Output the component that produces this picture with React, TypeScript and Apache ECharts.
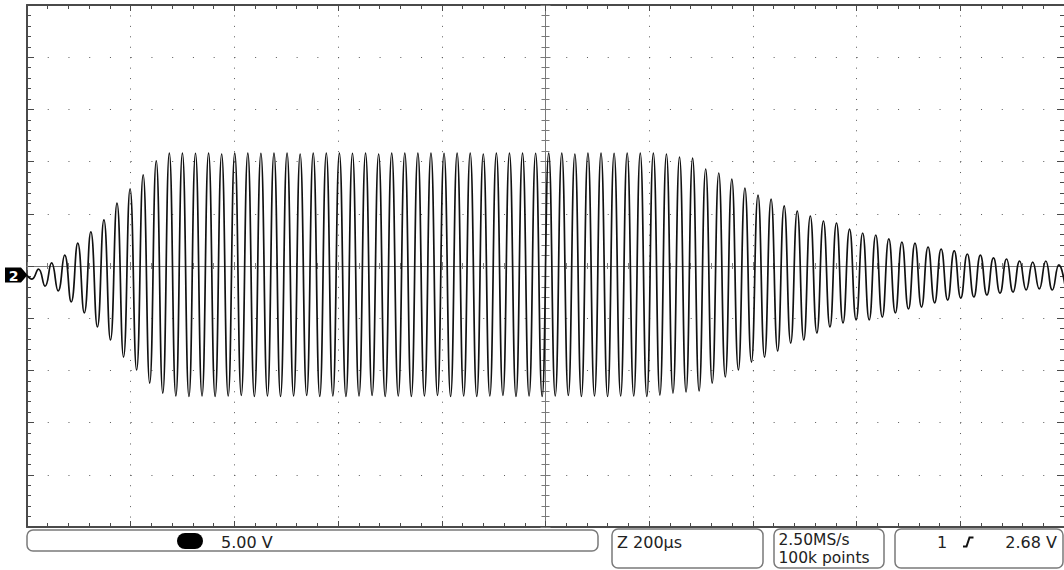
import React, { useEffect, useRef } from "react";
import * as echarts from "echarts";

// Time axis: µs relative to trigger (200 µs/div), Voltage axis: V (5 V/div)
const X_MIN = -1000;
const X_MAX = 1000;
const X_DIV = 200;
const Y_MIN = -25;
const Y_MAX = 25;
const Y_DIV = 5;

// Waveform: first positive peak time and cycle period (µs)
const START_TIME_US = -1000;
const START_VALUE_V = -0.9;
const FIRST_PEAK_US = -977.8;
const PERIOD_US = 25.23;

// Positive peak of each cycle (V)
const peakValues = [
  -0.29, 0.29, 1.05, 2.2, 3.26, 4.41, 6.03, 7.38, 8.72, 10.06,
  10.82, 10.82, 10.8, 10.82, 10.73, 10.82, 10.82, 10.8, 10.82, 10.82,
  10.73, 10.82, 10.82, 10.82, 10.8, 10.82, 10.73, 10.82, 10.82, 10.82,
  10.82, 10.8, 10.82, 10.82, 10.73, 10.82, 10.82, 10.82, 10.8, 10.82,
  10.82, 10.73, 10.82, 10.82, 10.8, 10.82, 10.82,
  10.82, 10.73, 10.44, 10.34,
  9.29, 8.91, 8.33, 7.47, 6.8, 6.42, 5.75, 5.27, 4.79, 4.31,
  4.12, 3.54, 3.16, 2.97, 2.59, 2.3, 2.2, 1.82, 1.63, 1.44,
  1.15, 1.05, 0.77, 0.67, 0.48, 0.38, 0.48, 0.1,
];

// Negative trough before the first peak, then the trough after each peak (V)
const troughValues = [
  -1.25, -1.92, -2.39, -3.45, -4.5, -5.84, -7.09, -8.72, -9.96, -11.21, -12.17,
  -12.45, -12.5, -12.45, -12.5, -12.45, -12.4, -12.5, -12.45, -12.5, -12.45,
  -12.4, -12.5, -12.45, -12.5, -12.45, -12.4, -12.5, -12.45, -12.5, -12.45,
  -12.4, -12.5, -12.45, -12.5, -12.45, -12.4, -12.5, -12.45, -12.5, -12.45,
  -12.4, -12.5, -12.45, -12.5, -12.45, -12.45,
  -12.5, -12.36, -12.17, -12.07, -11.97,
  -11.21, -10.63, -9.96, -9.2, -8.72, -8.14, -7.38, -7.09, -6.42, -5.84,
  -5.46, -5.17, -5.17, -4.89, -4.5, -4.12, -3.93, -3.54, -3.26, -3.07,
  -2.97, -2.78, -2.59, -2.49, -2.3, -2.2, -2.3, -2.11,
];

const statusTexts = {
  vdiv: "5.00 V",
  horiz: "Z 200µs",
  rate: "2.50MS/s",
  points: "100k points",
  trigCh: "1",
  trigLevel: "2.68 V",
  channel: "2",
};

const FONT = "DejaVu Sans";

function buildWave(): number[][] {
  const data: number[][] = [[START_TIME_US, START_VALUE_V]];
  data.push([FIRST_PEAK_US - PERIOD_US / 2, troughValues[0]]);
  for (let k = 0; k < peakValues.length; k++) {
    const t = FIRST_PEAK_US + k * PERIOD_US;
    data.push([t, peakValues[k]]);
    if (k + 1 < troughValues.length) {
      data.push([t + PERIOD_US / 2, troughValues[k + 1]]);
    }
  }
  return data;
}

const BORDER = "#4a4a4a";
const CENTER = "#7a7a7a";
const DOT = "#5a5a5a";

function xAxisBase(extra: any) {
  return {
    type: "value",
    min: X_MIN,
    max: X_MAX,
    interval: X_DIV,
    axisLabel: { show: false },
    splitLine: { show: false },
    ...extra,
  };
}
function yAxisBase(extra: any) {
  return {
    type: "value",
    min: Y_MIN,
    max: Y_MAX,
    interval: Y_DIV,
    axisLabel: { show: false },
    splitLine: { show: false },
    ...extra,
  };
}

export default function App() {
  const ref = useRef<HTMLDivElement>(null);

  useEffect(() => {
    if (!ref.current) return;
    const chart = echarts.init(ref.current, null, { renderer: "svg" });
    const boxStyle = { fill: "#fff", stroke: "#7a7a7a", lineWidth: 1.5 };
    const textStyle = (text: string, x: number, y: number, align = "left", size = 16) => ({
      type: "text",
      x,
      y,
      z: 10,
      style: {
        text,
        fill: "#222",
        font: `${size}px "${FONT}"`,
        textAlign: align,
        verticalAlign: "middle",
      },
    });

    chart.setOption({
      animation: false,
      backgroundColor: "#ffffff",
      grid: { left: 27, top: 5, width: 1037, height: 522, containLabel: false },
      xAxis: [
        xAxisBase({
          position: "bottom",
          axisLine: { show: true, onZero: false, lineStyle: { color: BORDER, width: 2 } },
          axisTick: { show: true, inside: true, length: 6, lineStyle: { color: BORDER } },
          minorTick: { show: true, splitNumber: 5, length: 4, lineStyle: { color: BORDER } },
          splitLine: { show: true, lineStyle: { color: DOT, width: 1, type: [1, 9.44] } },
        }),
        xAxisBase({
          position: "top",
          axisLine: { show: true, onZero: false, lineStyle: { color: BORDER, width: 2 } },
          axisTick: { show: true, inside: true, length: 6, lineStyle: { color: BORDER } },
          minorTick: { show: true, splitNumber: 5, length: 4, lineStyle: { color: BORDER } },
        }),
        xAxisBase({
          position: "bottom",
          axisLine: { show: true, onZero: true, onZeroAxisIndex: 0, lineStyle: { color: CENTER, width: 1 } },
          axisTick: { show: true, inside: true, length: 4, lineStyle: { color: CENTER } },
          minorTick: { show: true, splitNumber: 5, length: 3, lineStyle: { color: CENTER } },
        }),
        xAxisBase({
          position: "bottom",
          axisLine: { show: true, onZero: true, onZeroAxisIndex: 0, lineStyle: { color: CENTER, width: 1 } },
          axisTick: { show: true, inside: false, length: 4, lineStyle: { color: CENTER } },
          minorTick: { show: true, splitNumber: 5, length: 3, lineStyle: { color: CENTER } },
        }),
      ],
      yAxis: [
        yAxisBase({
          position: "left",
          axisLine: { show: true, onZero: false, lineStyle: { color: BORDER, width: 2 } },
          axisTick: { show: true, inside: true, length: 7, lineStyle: { color: BORDER } },
          minorTick: { show: true, splitNumber: 5, length: 4, lineStyle: { color: BORDER } },
          splitLine: { show: true, lineStyle: { color: DOT, width: 1, type: [1, 19.74] } },
        }),
        yAxisBase({
          position: "right",
          axisLine: { show: false, onZero: false },
          axisTick: { show: true, inside: true, length: 7, lineStyle: { color: BORDER } },
          minorTick: { show: true, splitNumber: 5, length: 4, lineStyle: { color: BORDER } },
        }),
        yAxisBase({
          position: "left",
          axisLine: { show: true, onZero: true, onZeroAxisIndex: 0, lineStyle: { color: CENTER, width: 1 } },
          axisTick: { show: true, inside: true, length: 5, lineStyle: { color: CENTER } },
          minorTick: { show: true, splitNumber: 5, length: 4, lineStyle: { color: CENTER } },
        }),
        yAxisBase({
          position: "left",
          axisLine: { show: true, onZero: true, onZeroAxisIndex: 0, lineStyle: { color: CENTER, width: 1 } },
          axisTick: { show: true, inside: false, length: 5, lineStyle: { color: CENTER } },
          minorTick: { show: true, splitNumber: 5, length: 4, lineStyle: { color: CENTER } },
        }),
      ],
      series: [
        {
          type: "line",
          xAxisIndex: 0,
          yAxisIndex: 0,
          data: buildWave(),
          smooth: 0.5,
          symbol: "none",
          showSymbol: false,
          clip: true,
          z: 5,
          lineStyle: { color: "#111", width: 1.7 },
          silent: true,
        },
      ],
      graphic: [
        // channel ground marker
        {
          type: "polygon",
          z: 20,
          shape: { points: [[5, 267.5], [21, 267.5], [27.5, 275], [21, 282.5], [5, 282.5]] },
          style: { fill: "#000" },
        },
        {
          type: "text",
          x: 13.5,
          y: 275.5,
          z: 21,
          style: {
            text: statusTexts.channel,
            fill: "#fff",
            font: `bold 14px "${FONT}"`,
            textAlign: "center",
            verticalAlign: "middle",
          },
        },
        // status boxes
        { type: "rect", z: 9, shape: { x: 27, y: 530, width: 571, height: 21, r: 6 }, style: boxStyle },
        { type: "rect", z: 10, shape: { x: 177, y: 533, width: 26, height: 16, r: 8 }, style: { fill: "#000" } },
        textStyle(statusTexts.vdiv, 221, 542),
        { type: "rect", z: 9, shape: { x: 612, y: 529, width: 151, height: 39, r: 6 }, style: boxStyle },
        textStyle(statusTexts.horiz, 617, 542),
        { type: "rect", z: 9, shape: { x: 774, y: 529, width: 110, height: 39, r: 6 }, style: boxStyle },
        textStyle(statusTexts.rate, 778.5, 539.5, "left", 15.5),
        textStyle(statusTexts.points, 778.5, 558, "left", 15.5),
        { type: "rect", z: 9, shape: { x: 895, y: 529, width: 168, height: 39, r: 6 }, style: boxStyle },
        textStyle(statusTexts.trigCh, 937, 542),
        {
          type: "polyline",
          z: 10,
          shape: { points: [[963, 546.5], [966.5, 546.5], [969.5, 537.5], [973.5, 537.5]] },
          style: { stroke: "#111", lineWidth: 2, fill: null },
        },
        textStyle(statusTexts.trigLevel, 1057, 542, "right"),
      ],
    });
    return () => chart.dispose();
  }, []);

  return (
    <div
      ref={ref}
      style={{ position: "fixed", left: 0, top: 0, width: 1064, height: 570, background: "#fff" }}
    />
  );
}
